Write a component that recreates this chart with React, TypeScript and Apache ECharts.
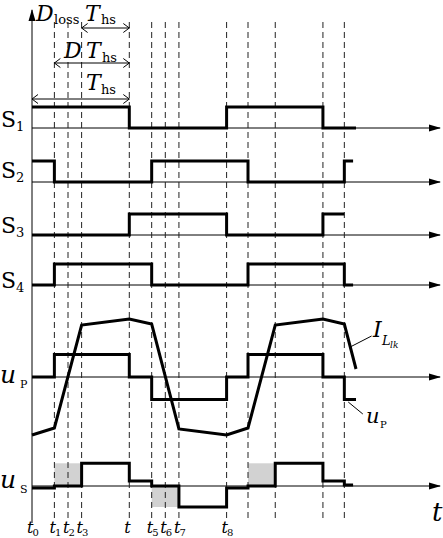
import { useEffect, useRef } from 'react'
import * as echarts from 'echarts'

const FONT = 'DejaVu Serif'

// switching instants t0..t12 (time units, T_hs = 100)
const tMarks = [0, 23, 37, 51, 100, 123, 137, 151, 200, 222, 250, 299, 321]
const tSubs = ['0', '1', '2', '3', '', '5', '6', '7', '8']

// gate signals: [time, state]
const s1 = [[0, 1], [100, 0], [200, 1], [299, 0], [333, 0]]
const s2 = [[0, 1], [23, 0], [123, 1], [222, 0], [321, 1], [330, 1]]
const s3 = [[0, 0], [100, 1], [200, 0], [299, 1], [321, 1]]
const s4 = [[0, 0], [23, 1], [123, 0], [222, 1], [321, 0], [330, 0]]

// primary voltage level (+1 / 0 / -1)
const uP = [[0, 0], [23, 1], [100, 0], [123, -1], [200, 0], [222, 1], [299, 0], [321, -1], [333, -1]]
// leakage inductor current (relative)
const iLlk = [[0, -58], [23, -51], [51, 52], [100, 58], [123, 53], [151, -52], [200, -58], [222, -51], [250, 52], [299, 58], [321, 53], [333, 8]]
// secondary voltage (relative)
const uS = [[0, -2], [23, 0], [51, 22.7], [100, 5], [123, 0], [151, -21], [200, -2], [222, 0], [250, 22.7], [299, 5], [321, 1], [330, 1]]
// shaded blocks on u_S: [from, to, level]
const uSShaded = [[23, 51, 22.7], [123, 151, -21], [222, 250, 22.7]]

// layout
const W = 443
const H = 538
const PX = 0.973
const ORIGIN_X = 32
const X_MIN = -ORIGIN_X / PX
const X_MAX = (W - ORIGIN_X) / PX
const AXIS_END = (440 - ORIGIN_X) / PX
const BASE = { s1: 128, s2: 182, s3: 235, s4: 285, uP: 377, uS: 486 }
const SW_AMP = 21
const UP_AMP = 22.5

type Lbl = [string, number, number, number, boolean]

const labels: Lbl[] = [
  ['D', 36, 21, 22, true], ['loss', 54, 24, 13, false], ['T', 85, 21, 22, true], ['hs', 101, 24, 13, false],
  ['D', 64, 58, 22, true], ['T', 86, 58, 22, true], ['hs', 102, 62, 13, false],
  ['T', 86, 90, 22, true], ['hs', 101, 94, 13, false],
  ['S', 1, 127, 22, false], ['1', 16, 131, 13, false],
  ['S', 1, 178, 22, false], ['2', 16, 182, 13, false],
  ['S', 1, 233, 22, false], ['3', 16, 237, 13, false],
  ['S', 1, 288, 22, false], ['4', 16, 292, 13, false],
  ['u', 0, 383, 25, true], ['P', 20, 388, 11, false],
  ['u', 0, 488, 25, true], ['S', 20, 493, 11, false],
  ['I', 373, 337, 22, true], ['L', 382, 345, 13, true], ['lk', 390, 348, 9, true],
  ['u', 366, 423, 21, true], ['P', 380, 428, 10, false],
  ['t', 432, 521, 26, true]
]

tSubs.forEach((sub, i) => {
  const px = ORIGIN_X + tMarks[i] * PX
  labels.push(['t', px - 5, 533, 16, true])
  if (sub) labels.push([sub, px + 0.5, 536, 10, false])
})

const traceLine = { color: '#000', width: 3, join: 'miter' as const }

function trace(data: number[][], base: number, amp: number, step: boolean) {
  return {
    type: 'line',
    step: step ? 'end' : false,
    data: data.map(([x, v]) => [x, base - v * amp]),
    showSymbol: false,
    symbol: 'none',
    lineStyle: traceLine,
    silent: true,
    z: 3
  }
}

// kind: 0 thin line, 1 axis with arrow, 2 dashed guide, 3 dimension arrow
const guides: number[][] = []
Object.values(BASE).forEach((b) => guides.push([0, b, AXIS_END, b, 1]))
guides.push([0, 523, 0, 10, 1])
tMarks.slice(1).forEach((t) => guides.push([t, 22, t, 518, 2]))
guides.push([tMarks[0], 99, tMarks[4], 99, 3])
guides.push([tMarks[1], 63, tMarks[4], 63, 3])
guides.push([tMarks[3], 28, tMarks[4], 28, 3])
guides.push([327, 347, 349, 336, 0])
guides.push([325, 402, 340, 414, 0])

export default function App() {
  const ref = useRef<HTMLDivElement | null>(null)

  useEffect(() => {
    if (!ref.current) return
    const chart = echarts.init(ref.current, undefined, { renderer: 'svg' })

    chart.setOption({
      animation: false,
      backgroundColor: '#fff',
      grid: { left: 0, right: 0, top: 0, bottom: 0 },
      xAxis: { type: 'value', min: X_MIN, max: X_MAX, show: false },
      yAxis: { type: 'value', min: 0, max: H, inverse: true, show: false },
      series: [
        {
          type: 'custom',
          data: guides,
          silent: true,
          z: 1,
          renderItem: (_params: any, api: any) => {
            const a = api.coord([api.value(0), api.value(1)])
            const b = api.coord([api.value(2), api.value(3)])
            const kind = api.value(4)
            const dx = b[0] - a[0]
            const dy = b[1] - a[1]
            const len = Math.hypot(dx, dy) || 1
            const ux = dx / len
            const uy = dy / len
            const nx = -uy
            const ny = ux
            const children: any[] = [
              {
                type: 'line',
                shape: { x1: a[0], y1: a[1], x2: b[0], y2: b[1] },
                style: {
                  stroke: kind === 2 ? '#222' : '#000',
                  lineWidth: 1,
                  lineDash: kind === 2 ? [6, 4] : null
                }
              }
            ]
            if (kind === 1) {
              const L = 11
              const hw = 3.5
              children.push({
                type: 'polygon',
                shape: {
                  points: [
                    [b[0] + ux * 1, b[1] + uy * 1],
                    [b[0] - ux * L + nx * hw, b[1] - uy * L + ny * hw],
                    [b[0] - ux * L - nx * hw, b[1] - uy * L - ny * hw]
                  ]
                },
                style: { fill: '#000' }
              })
            }
            if (kind === 3) {
              const L = 6
              const hw = 4.5
              const ends: [number[], number][] = [[b, 1], [a, -1]]
              ends.forEach(([p, s]) => {
                children.push({
                  type: 'polyline',
                  shape: {
                    points: [
                      [p[0] - s * ux * L + nx * hw, p[1] - s * uy * L + ny * hw],
                      [p[0], p[1]],
                      [p[0] - s * ux * L - nx * hw, p[1] - s * uy * L - ny * hw]
                    ]
                  },
                  style: { stroke: '#000', lineWidth: 1, fill: null }
                })
              })
            }
            return { type: 'group', children }
          }
        },
        trace(s1, BASE.s1, SW_AMP, true),
        trace(s2, BASE.s2, SW_AMP, true),
        trace(s3, BASE.s3, SW_AMP, true),
        trace(s4, BASE.s4, SW_AMP, true),
        trace(uP, BASE.uP, UP_AMP, true),
        trace(iLlk, BASE.uP, 1, false),
        {
          ...trace(uS, BASE.uS, 1, true),
          markArea: {
            silent: true,
            itemStyle: { color: '#d2d2d2' },
            data: uSShaded.map(([x1, x2, v]) => [
              { coord: [x1, BASE.uS] },
              { coord: [x2, BASE.uS - v] }
            ])
          }
        }
      ],
      graphic: labels.map(([text, x, baseline, size, italic]) => ({
        type: 'text',
        x,
        y: baseline - size * 0.35,
        silent: true,
        style: {
          text,
          fontFamily: FONT,
          fontSize: size,
          fontStyle: italic ? 'italic' : 'normal',
          lineHeight: Math.round(size * 0.8),
          fill: '#000',
          align: 'left',
          verticalAlign: 'middle'
        }
      }))
    })

    return () => {
      chart.dispose()
    }
  }, [])

  return <div ref={ref} style={{ position: 'absolute', left: 0, top: 0, width: W, height: H }} />
}
